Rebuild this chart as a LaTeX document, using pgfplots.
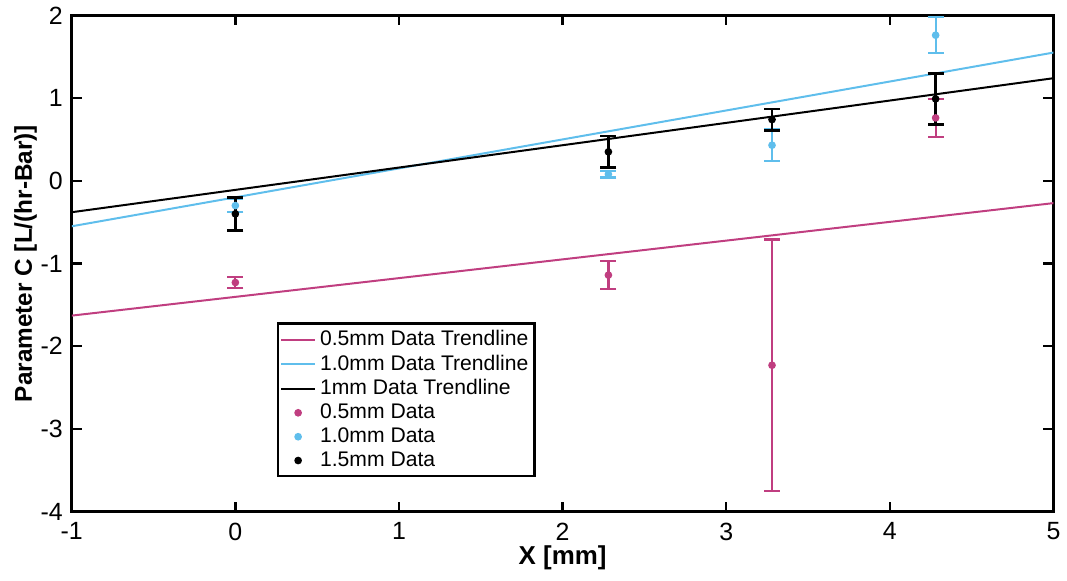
\documentclass[border=0pt]{standalone}
\usepackage{pgfplots}
\pgfplotsset{compat=1.18}
\usepackage{fontspec}
\setmainfont{Liberation Sans}
\definecolor{mag}{RGB}{192,62,128}
\definecolor{lblue}{RGB}{95,190,236}
\begin{document}
\begin{tikzpicture}
\begin{axis}[
  at={(0,0)}, anchor=south west,
  scale only axis,
  width=492.5pt, height=249pt,
  xmin=-1, xmax=5, ymin=-4, ymax=2,
  xtick={-1,0,1,2,3,4,5},
  xticklabels={-1,0,1,2,3,4,5},
  ytick={-4,-3,-2,-1,0,1,2},
  yticklabels={-4,-3,-2,-1,0,1,2},
  tick align=inside,
  major tick length=5pt,
  tick style={line width=1.2pt, black},
  axis line style={line width=1.3pt},
  tick label style={font=\fontsize{12.5}{14}\selectfont},
  xticklabel style={yshift=-2pt},
  yticklabel style={xshift=-1pt},
  xlabel={\textbf{X [mm]}},
  ylabel={\textbf{Parameter C [L/(hr-Bar)]}},
  xlabel style={font=\fontsize{13}{14}\selectfont, yshift=4pt},
  ylabel style={font=\fontsize{12.2}{14}\selectfont, yshift=-5pt},
  legend style={at={(0.209,0.3815)}, anchor=north west,
    font=\fontsize{10.6}{12}\selectfont, draw=black, line width=1.2pt,
    inner xsep=1pt, inner ysep=1.5pt, row sep=-0.9pt,
    /tikz/every even column/.append style={column sep=0pt}},
  legend cell align=left,
  every axis plot/.append style={line width=1pt},
]
\addplot[mag, line width=1pt] coordinates {(-1,-1.63) (5,-0.27)};
\addlegendentry{0.5mm Data Trendline}
\addplot[lblue, line width=1pt] coordinates {(-1,-0.55) (5,1.55)};
\addlegendentry{1.0mm Data Trendline}
\addplot[black, line width=1pt] coordinates {(-1,-0.38) (5,1.24)};
\addlegendentry{1mm Data Trendline}

\addplot[mag, only marks, mark=*, mark size=1.4pt,
  error bars/.cd, y dir=both, y explicit,
  error bar style={line width=1.1pt, mag},
  error mark options={rotate=90, mark size=4pt, line width=1.1pt, mag}]
  coordinates {(0,-1.23) +- (0,0.07) (2.28,-1.14) +- (0,0.17) (3.28,-2.23) +- (0,1.52) (4.28,0.76) +- (0,0.23)};
\addlegendentry{0.5mm Data}
\addplot[lblue, only marks, mark=*, mark size=1.4pt,
  error bars/.cd, y dir=both, y explicit,
  error bar style={line width=1.1pt, lblue},
  error mark options={rotate=90, mark size=4pt, line width=1.1pt, lblue}]
  coordinates {(0,-0.30) +- (0,0.08) (2.28,0.08) +- (0,0.04) (3.28,0.43) +- (0,0.19) (4.28,1.76) +- (0,0.22)};
\addlegendentry{1.0mm Data}
\addplot[black, only marks, mark=*, mark size=1.4pt,
  error bars/.cd, y dir=both, y explicit,
  error bar style={line width=1.3pt, black},
  error mark options={rotate=90, mark size=4pt, line width=1.3pt, black}]
  coordinates {(0,-0.40) +- (0,0.20) (2.28,0.35) +- (0,0.19) (3.28,0.74) +- (0,0.13) (4.28,0.99) +- (0,0.31)};
\addlegendentry{1.5mm Data}
\end{axis}
\path[use as bounding box] (-36pt,-34.5pt) rectangle (497pt,256pt);
\end{tikzpicture}
\end{document}
